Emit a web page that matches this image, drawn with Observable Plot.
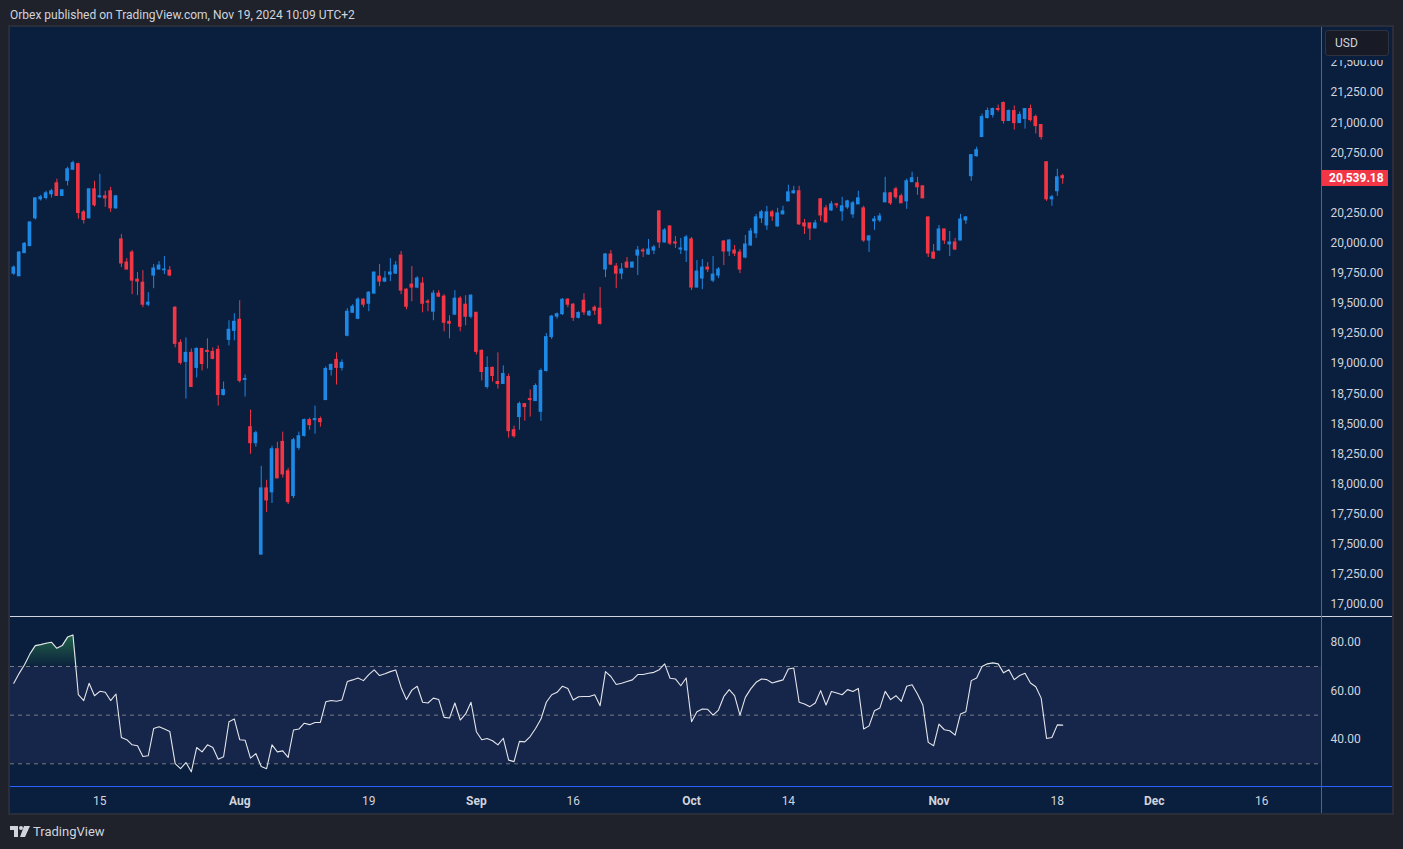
<!DOCTYPE html>
<html>
<head>
<meta charset="utf-8">
<script src="https://cdn.jsdelivr.net/npm/d3@7"></script>
<script src="https://cdn.jsdelivr.net/npm/@observablehq/plot@0.6"></script>
<style>
html,body{margin:0;padding:0;background:#1f222b;}
#root{position:relative;width:1403px;height:849px;background:#1f222b;overflow:hidden;font-family:Roboto,"Noto Sans",sans-serif;color:#d1d4dc;}
.abs{position:absolute;}
#frame{left:10px;top:27px;width:1382px;height:786px;background:#0a1e3d;box-shadow:0 0 0 2px #2a2e39;}
#header{left:10px;top:8px;font-size:12px;color:#d1d4dc;white-space:nowrap;}
#footer{left:33px;top:824px;font-size:13px;color:#d1d4dc;}
</style>
</head>
<body>
<div id="root">
  <div id="header" class="abs">Orbex published on TradingView.com, Nov 19, 2024 10:09 UTC+2</div>
  <div id="frame" class="abs"></div>
</div>
<script>
// ---- data (12h candles, index 0..195) ----
const opens = [
19747,19725,19917,19975,20206,20364,20375,20406,20497,20392,
20517,20609,20656,20256,20206,20447,20381,20389,20431,20289,
20031,19839,19922,19697,19672,19489,19731,19781,19775,19772,
19464,19172,19014,19089,18964,19122,19106,19097,19114,18739,
19197,19272,19364,18864,18472,18339,17414,17964,17931,18289,
18350,18106,17900,18300,18400,18531,18531,18539,18697,18947,
19031,18964,19231,19422,19372,19531,19497,19581,19722,19681,
19739,19747,19897,19614,19656,19631,19664,19514,19431,19581,
19556,19347,19406,19539,19489,19389,19422,19106,18806,18964,
18847,18831,18889,18447,18556,18664,18706,18689,18600,18939,
19220,19390,19410,19531,19489,19380,19522,19400,19464,19456,
19781,19906,19806,19747,19839,19797,19897,19939,19906,19939,
20264,20006,20139,20006,19947,19939,20031,19631,19706,19797,
19689,19731,20014,19931,19939,19922,19881,19981,20081,20206,
20147,20256,20139,20239,20347,20414,20431,20164,20164,20122,
20364,20289,20272,20322,20264,20297,20239,20322,20289,20022,
20181,20189,20339,20414,20447,20389,20347,20506,20497,20472,
20214,19922,19939,20114,19989,20006,20022,20189,20556,20722,
20881,21039,21064,21114,21164,21014,21097,20997,21031,21114,
21047,20981,20672,20364,20431,20556];
const highs = [
19811,19931,20003,20175,20375,20397,20431,20447,20531,20442,
20631,20681,20664,20272,20450,20514,20572,20431,20464,20397,
20072,19872,19939,19756,19772,19589,19822,19847,19889,19806,
19472,19197,19214,19122,19131,19125,19206,19131,19147,18847,
19356,19414,19522,18906,18614,18439,18147,18031,18314,18347,
18431,18130,18380,18431,18540,18547,18647,18556,18972,18997,
19089,19031,19456,19489,19547,19539,19597,19760,19822,19764,
19872,19847,19931,19622,19806,19722,19714,19531,19606,19606,
19572,19397,19606,19556,19564,19572,19425,19114,19056,18972,
19089,18981,18914,18481,18681,18664,18781,18831,18956,19250,
19400,19420,19540,19539,19500,19430,19581,19440,19480,19631,
19914,19939,19831,19831,19881,19842,19972,19956,20031,19981,
20268,20122,20142,20056,20039,20064,20047,19856,19864,19839,
19889,19797,20022,20031,19981,19947,20064,20122,20239,20272,
20306,20272,20289,20306,20481,20472,20472,20197,20166,20189,
20370,20314,20347,20331,20381,20356,20347,20431,20306,20064,
20222,20247,20547,20422,20464,20406,20531,20589,20547,20474,
20216,19989,20147,20116,20097,20039,20239,20222,20735,20797,
21072,21122,21122,21147,21172,21106,21139,21089,21114,21147,
21064,20983,20674,20397,20614,20572];
const lows = [
19733,19722,19915,19972,20192,20350,20359,20375,20390,20390,
20475,20606,20200,20159,20203,20300,20372,20297,20256,20281,
19797,19778,19572,19564,19464,19472,19622,19778,19739,19722,
19131,18989,18706,18803,18881,18939,18956,19031,18647,18731,
19147,19189,18839,18722,18247,18306,17410,17764,17839,18045,
18050,17830,17880,18280,18390,18447,18414,18472,18695,18897,
18822,18939,19222,19420,19364,19464,19431,19578,19639,19672,
19681,19739,19572,19447,19514,19622,19422,19431,19356,19547,
19264,19206,19403,19264,19314,19372,19072,18856,18789,18847,
18789,18829,18381,18381,18447,18522,18556,18687,18520,18930,
19200,19370,19400,19464,19350,19370,19400,19390,19400,19320,
19714,19814,19622,19697,19789,19795,19731,19881,19900,19906,
19956,20000,19981,19956,19906,19839,19606,19630,19614,19756,
19672,19706,19814,19889,19889,19747,19870,19975,20039,20164,
20106,20181,20131,20236,20345,20406,20147,20072,20022,20120,
20180,20170,20264,20289,20181,20281,20206,20320,20006,19922,
20106,20172,20337,20314,20364,20329,20281,20504,20397,20370,
19881,19864,19937,19989,19889,19939,20020,20156,20514,20714,
20879,21030,21039,21089,20989,21012,20939,20995,20947,21006,
20906,20856,20347,20306,20389,20489];
const closes = [
19797,19922,19995,20172,20372,20381,20414,20431,20392,20439,
20614,20664,20250,20192,20447,20314,20389,20372,20289,20389,
19831,19781,19689,19681,19489,19506,19789,19814,19781,19731,
19164,19006,19089,18806,19122,18997,19097,19039,18739,18781,
19281,19347,18856,18872,18339,18422,17964,17864,18289,18047,
18080,17850,18364,18397,18531,18489,18539,18514,18956,18989,
18964,19006,19431,19472,19531,19489,19589,19756,19681,19706,
19756,19814,19606,19472,19631,19706,19497,19506,19581,19556,
19339,19331,19539,19306,19389,19564,19097,18931,18964,18897,
18831,18914,18439,18397,18664,18639,18697,18814,18939,19220,
19390,19410,19530,19489,19380,19420,19425,19430,19440,19330,
19906,19822,19747,19781,19797,19839,19939,19931,19947,19964,
20006,20106,19997,19997,19956,20047,19631,19764,19797,19781,
19739,19781,19931,20022,19914,19781,19989,20097,20214,20256,
20256,20222,20247,20264,20422,20431,20156,20139,20122,20164,
20230,20172,20322,20314,20306,20347,20331,20372,20022,20056,
20197,20222,20414,20331,20381,20331,20514,20539,20464,20372,
19914,19872,20114,20022,20006,19947,20197,20214,20731,20772,
21047,21097,21114,21106,21014,21097,20997,21064,21114,21022,
20972,20881,20364,20381,20547,20539];
const rsi = [
63.1,67.2,70.7,75.2,78.6,79.0,79.6,80.0,77.5,78.6,
82.1,83.0,58.4,56.0,63.1,58.0,59.8,59.4,56.0,58.7,
40.8,39.9,37.8,37.4,33.0,33.3,44.5,45.2,44.3,43.3,
30.1,28.0,30.5,26.7,36.7,34.9,37.8,36.7,31.9,32.9,
47.3,48.4,39.9,39.7,32.3,34.2,28.9,28.0,37.8,34.9,
35.3,32.6,43.9,44.3,46.7,46.1,47.0,47.0,55.5,56.0,
55.7,56.2,63.8,64.5,65.3,64.2,66.7,68.6,66.3,67.0,
67.9,68.6,61.5,56.4,60.3,61.9,55.3,55.0,57.0,56.4,
49.1,48.8,55.0,48.0,50.5,55.3,43.2,39.9,40.4,39.5,
37.8,40.5,31.5,30.9,39.2,39.0,41.2,44.5,48.4,55.3,
58.4,59.4,61.9,61.0,56.2,57.6,57.7,57.7,58.4,53.9,
67.9,65.9,62.6,63.1,63.8,64.5,66.7,66.7,67.2,67.6,
68.7,71.1,65.2,64.9,62.1,65.3,47.3,51.4,52.5,52.4,
50.0,52.1,57.7,60.5,58.0,50.0,57.3,60.8,63.5,64.9,
64.6,63.2,63.9,64.5,69.0,69.4,55.3,54.6,53.5,55.0,
60.1,54.2,59.7,59.1,58.4,60.5,59.7,61.0,44.3,45.6,
51.8,52.9,59.8,56.4,58.0,55.7,61.9,62.5,58.7,54.2,
38.8,37.4,46.3,44.0,43.6,41.8,50.5,51.4,64.2,65.3,
70.0,71.1,71.5,71.1,67.4,68.7,64.6,66.3,67.2,63.2,
61.7,57.0,40.4,40.8,46.0,45.9];
const priceTicks = d3.range(17000, 21501, 250);
const rsiTicks = [40, 60, 80];
const rsiLevels = [30, 50, 70];
const timeTickIndex = [16, 42, 66, 86, 104, 126, 144, 172, 194, 212, 232];
const timeTickLabels = ["15","Aug","19","Sep","16","Oct","14","Nov","18","Dec","16"];
const monthNames = new Set(["Aug","Sep","Oct","Nov","Dec"]);
const lastPrice = 20539.18;

// ---- styling ----
const BLUE = "#1e88e5", RED = "#f23645", NAVY = "#0a1e3d", TXT = "#d1d4dc";
const STEP = 5.379, X0 = 3.3, PLOTW = 1311;
const xDomain = [-X0 / STEP, (PLOTW - X0) / STEP];
const font = "Roboto, 'Noto Sans', sans-serif";

const candles = opens.map((o, i) => ({i, o, h: highs[i], l: lows[i], c: closes[i]}));
const upC = candles.filter(d => d.c >= d.o), dnC = candles.filter(d => d.c < d.o);
const rsiData = rsi.map((r, i) => ({i, r}));
const labelMap = new Map(timeTickIndex.map((t, k) => [t, timeTickLabels[k]]));
// the tick label hidden under the last-price label is not drawn
const shownPriceTicks = priceTicks.filter(t => Math.abs(t - lastPrice) > 90);

const root = document.getElementById("root");
function place(el, left, top) {
  el.style.position = "absolute"; el.style.left = left + "px"; el.style.top = top + "px";
  root.appendChild(el); return el;
}
function div(left, top, w, h, bg, extra) {
  const d = document.createElement("div");
  d.style.cssText = `position:absolute;left:${left}px;top:${top}px;width:${w}px;height:${h}px;background:${bg};${extra||""}`;
  root.appendChild(d); return d;
}

// ---- price pane ----
const body = (data, color) => Plot.rect(data, {
  x1: d => d.i - 0.34, x2: d => d.i + 0.34, y1: "o", y2: "c", fill: color, insetTop: -0.5, insetBottom: -0.5
});
const price = Plot.plot({
  width: 1382, height: 590,
  margin: 0, marginRight: 71,
  x: {domain: xDomain, axis: null},
  y: {domain: [16892, 21790.6], axis: "right", ticks: shownPriceTicks, tickFormat: d3.format(",.2f"),
      tickSize: 0, tickPadding: 9, label: null},
  style: {background: "transparent", color: TXT, fontSize: "12px", fontFamily: font, overflow: "visible"},
  marks: [
    Plot.ruleX(upC, {x: "i", y1: "l", y2: "h", stroke: BLUE, strokeWidth: 1}),
    Plot.ruleX(dnC, {x: "i", y1: "l", y2: "h", stroke: RED, strokeWidth: 1}),
    body(upC, BLUE),
    body(dnC, RED)
  ]
});
place(price, 10, 27);

// ---- RSI pane + time axis ----
const rsiPlot = Plot.plot({
  width: 1382, height: 196,
  margin: 0, marginRight: 71, marginBottom: 26,
  x: {domain: xDomain, ticks: timeTickIndex, tickFormat: d => labelMap.get(d), tickSize: 0, tickPadding: 9, label: null},
  y: {domain: [20.25, 90.16], axis: "right", ticks: rsiTicks, tickFormat: d3.format(".2f"),
      tickSize: 0, tickPadding: 9, label: null},
  style: {background: "transparent", color: TXT, fontSize: "12px", fontFamily: font, overflow: "visible"},
  marks: [
    Plot.rect([rsiLevels], {x1: xDomain[0], x2: xDomain[1], y1: d => d[0], y2: d => d[2], fill: "#16254a"}),
    Plot.ruleY(rsiLevels, {stroke: "#787b86", strokeDasharray: "4,4", strokeWidth: 1}),
    Plot.areaY(rsiData, {x: "i", y1: 70, y2: d => Math.max(d.r, 70), fill: "green"}),
    Plot.lineY(rsiData, {x: "i", y: "r", stroke: "#e4e6ea", strokeWidth: 1.1})
  ]
});
// gradient for overbought fill
const s = d3.select(rsiPlot);
const defs = s.insert("defs", ":first-child");
const g = defs.append("linearGradient").attr("id", "obGrad").attr("x1", 0).attr("y1", 0).attr("x2", 0).attr("y2", 1);
g.append("stop").attr("offset", "0%").attr("stop-color", "#26704a").attr("stop-opacity", 0.85);
g.append("stop").attr("offset", "100%").attr("stop-color", "#26704a").attr("stop-opacity", 0.05);
s.selectAll("g[aria-label='area'], g[aria-label='area'] path").attr("fill", "url(#obGrad)");
s.selectAll("text").each(function() {
  const t = this.textContent;
  if (monthNames.has(t)) this.setAttribute("font-weight", "bold");
});
place(rsiPlot, 10, 617);

// ---- pane borders ----
div(10, 616, 1382, 1, "#d1d4dc");          // pane separator
div(1321, 27, 1, 786, "#2962ff");          // price scale border
div(10, 786, 1382, 1, "#2962ff");          // time scale border

// ---- top of price axis with USD badge ----
div(1322, 27, 70, 33, NAVY);
const badge = div(1325, 30, 64, 26, "#181b25", "border:1px solid #2f3340;border-radius:3px;box-sizing:border-box;font-size:12px;line-height:24px;padding-left:9px;color:#d1d4dc;");
badge.textContent = "USD";

// ---- last price label ----
const yLast = price.scale("y").apply(lastPrice) + 27;
const lbl = div(1322, Math.round(yLast - 7.5), 66, 16, RED, "color:#fff;font-size:12px;font-weight:bold;line-height:16px;padding-left:7px;box-sizing:border-box;font-family:" + font);
lbl.textContent = d3.format(",.2f")(lastPrice);

// ---- footer logo ----
const logo = document.createElementNS("http://www.w3.org/2000/svg", "svg");
logo.setAttribute("width", 22); logo.setAttribute("height", 12);
logo.innerHTML = '<path d="M0 0H8V11H4V4H0Z" fill="#d1d4dc"/><circle cx="11" cy="2" r="2" fill="#d1d4dc"/><path d="M14 0H20L15 11H10Z" fill="#d1d4dc"/>';
place(logo, 10, 826);
const ft = document.createElement("div");
ft.id = "footer"; ft.className = "abs"; ft.textContent = "TradingView";
root.appendChild(ft);
</script>
</body>
</html>
